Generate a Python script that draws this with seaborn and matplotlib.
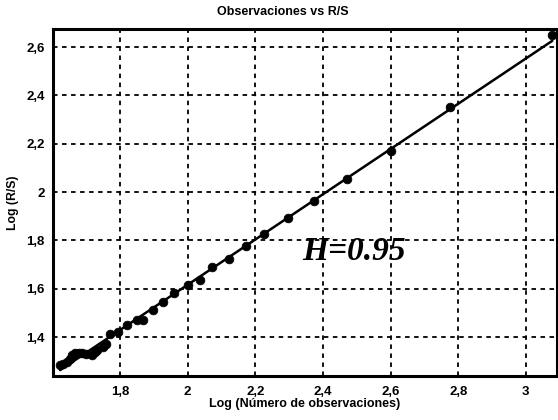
import numpy as np
import pandas as pd
import matplotlib
matplotlib.use("Agg")
import matplotlib.pyplot as plt
from matplotlib.ticker import MultipleLocator, FuncFormatter
import seaborn as sns

log_n = [1.623, 1.632, 1.643, 1.652, 1.658, 1.667, 1.678, 1.688, 1.700, 1.717,
         1.727, 1.732, 1.750, 1.760, 1.771, 1.794, 1.821, 1.850, 1.868, 1.898,
         1.927, 1.960, 2.001, 2.037, 2.072, 2.123, 2.173, 2.226, 2.297, 2.374,
         2.472, 2.602, 2.777, 3.078]
log_rs = [1.284, 1.290, 1.296, 1.310, 1.325, 1.333, 1.336, 1.333, 1.332, 1.325,
          1.338, 1.346, 1.358, 1.370, 1.412, 1.420, 1.449, 1.470, 1.470, 1.511,
          1.545, 1.582, 1.615, 1.636, 1.689, 1.723, 1.779, 1.828, 1.892, 1.963,
          2.054, 2.170, 2.352, 2.650]

hurst_label = "H=0.95"

df = pd.DataFrame({"log_n": log_n, "log_rs": log_rs})

sns.set_style("white")
plt.rcParams["font.family"] = ["Liberation Sans", "DejaVu Sans"]
# seaborn greys the text, the original is plain black
plt.rcParams["text.color"] = "black"
plt.rcParams["axes.labelcolor"] = "black"
plt.rcParams["xtick.color"] = "black"
plt.rcParams["ytick.color"] = "black"

fig = plt.figure(figsize=(5.58, 4.2), dpi=100)
ax = fig.add_axes([53 / 558, 44 / 420, 504 / 558, 347 / 420])

# scatter + least squares line
sns.regplot(data=df, x="log_n", y="log_rs", ci=None, ax=ax, truncate=True,
            scatter_kws={"s": 40, "color": "black", "alpha": 1, "edgecolor": "black",
                         "linewidths": 0.5, "zorder": 3},
            line_kws={"color": "black", "lw": 1.8, "zorder": 2})

ax.set_xlim(1.602, 3.092)
ax.set_ylim(1.239, 2.675)

ax.xaxis.set_major_locator(MultipleLocator(0.2))
ax.xaxis.set_minor_locator(MultipleLocator(0.05))
ax.yaxis.set_major_locator(MultipleLocator(0.2))
comma = FuncFormatter(lambda v, p: f"{v:g}".replace(".", ","))
ax.xaxis.set_major_formatter(comma)
ax.yaxis.set_major_formatter(comma)

ax.grid(True, which="major", color="black", linestyle=(0, (2.5, 2.5)), linewidth=1.3)
ax.tick_params(axis="both", which="major", direction="out", length=4, width=1.2,
               labelsize=9.5, pad=2, colors="black")
ax.tick_params(axis="x", which="minor", direction="out", length=3, width=1, colors="black")
ax.tick_params(axis="x", which="major", pad=3)
for lab in ax.get_xticklabels() + ax.get_yticklabels():
    lab.set_fontweight("bold")

for sp in ax.spines.values():
    sp.set_visible(True)
    sp.set_color("black")
    sp.set_linewidth(2.2)

ax.set_xlabel("Log (Número de observaciones)", fontsize=9, fontweight="bold", labelpad=0)
ax.set_ylabel("Log (R/S)", fontsize=8.8, fontweight="bold", labelpad=5)
fig.text(283 / 558, 1 - 12 / 420, "Observaciones vs R/S", ha="center", va="center",
         fontsize=9, fontweight="bold")

ax.text(2.491, 1.718, hurst_label, ha="center", va="baseline", color="black",
        family=["Liberation Serif", "DejaVu Serif"], fontsize=24,
        fontweight="bold", fontstyle="italic")

fig.savefig("out.png", dpi=100)
